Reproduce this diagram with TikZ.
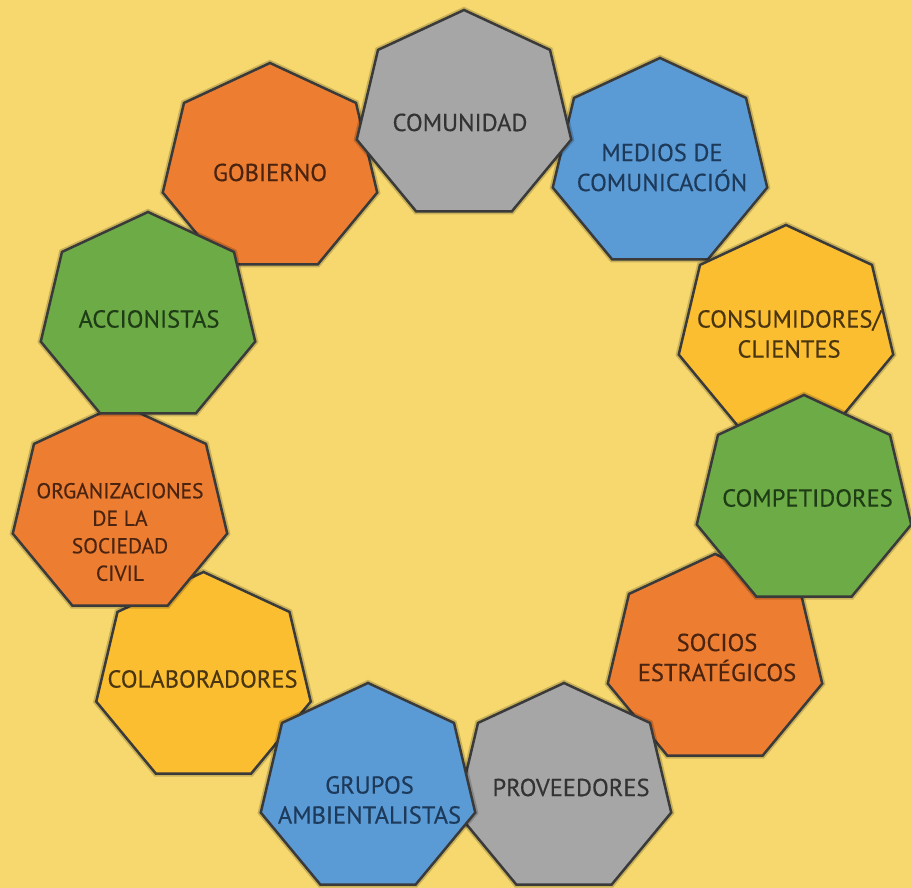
\documentclass[tikz,border=0pt]{standalone}
\usepackage{fontspec}
\setmainfont[FakeBold=0.35]{PT Sans}
\definecolor{bgyel}{HTML}{F6D86E}
\definecolor{edgec}{HTML}{3A3A3A}
\definecolor{cgray}{HTML}{A6A6A6}
\definecolor{cblue}{HTML}{5B9BD5}
\definecolor{corange}{HTML}{ED7D31}
\definecolor{cyellow}{HTML}{FBBE30}
\definecolor{cgreen}{HTML}{6CAB46}
\definecolor{tgray}{HTML}{333333}
\definecolor{tblue}{HTML}{1D3A5A}
\definecolor{torange}{HTML}{4A2410}
\definecolor{tyellow}{HTML}{4A3512}
\definecolor{tgreen}{HTML}{1E3C16}
\tikzset{
  heptshape/.style={line width=2.5pt, draw=edgec, line join=miter},
  heptshadow/.style={line width=6pt, draw=black, opacity=0.18, line join=miter},
  lab/.style={font=\fontsize{24.5}{30}\selectfont, align=center, inner sep=0pt},
  smalllab/.style={font=\fontsize{21.5}{27.5}\selectfont, align=center, inner sep=0pt},
}
% #1 cx, #2 cy, #3 fill colour
\newcommand\heptpath[3]{%
  \draw[heptshadow] ({#1},{#2-106}) \foreach \k in {1,...,6}{ -- ({#1+110*cos(90+\k*360/7)},{#2-106*sin(90+\k*360/7)}) } -- cycle;
  \draw[heptshape, fill=#3] ({#1},{#2-106}) \foreach \k in {1,...,6}{ -- ({#1+110*cos(90+\k*360/7)},{#2-106*sin(90+\k*360/7)}) } -- cycle;
}
\begin{document}
\begin{tikzpicture}[x=1pt, y=-1pt]
  \useasboundingbox (0,0) rectangle (911,888);
  \fill[bgyel] (0,0) rectangle (911,888);

  % GOBIERNO
  \heptpath{270}{169}{corange}
  \node[lab, text=torange] (gob) at (270,172.5) {GOBIERNO};
  % MEDIOS
  \heptpath{660}{164}{cblue}
  \node[lab, text=tblue] (med) at (662,167.5) {MEDIOS DE\\COMUNICACIÓN};
  % CONSUMIDORES
  \heptpath{786}{331}{cyellow}
  \node[lab, text=tyellow] (con) at (789,334) {CONSUMIDORES/\\CLIENTES};
  % SOCIOS
  \heptpath{715}{660}{corange}
  \node[lab, text=torange] (soc) at (717,657.5) {SOCIOS\\ESTRATÉGICOS};
  % COLABORADORES
  \heptpath{203.5}{678}{cyellow}
  \node[lab, text=tyellow] (col) at (202.5,679) {COLABORADORES};
  % ORGANIZACIONES
  \heptpath{120}{510}{corange}
  \node[smalllab, text=torange] (org) at (120,532) {ORGANIZACIONES\\DE LA\\SOCIEDAD\\CIVIL};
  % ACCIONISTAS
  \heptpath{148}{318}{cgreen}
  \node[lab, text=tgreen] (acc) at (149,319) {ACCIONISTAS};
  % PROVEEDORES
  \heptpath{564}{789}{cgray}
  \node[lab, text=tgray] (pro) at (571,787.5) {PROVEEDORES};
  % GRUPOS
  \heptpath{368}{789}{cblue}
  \node[lab, text=tblue] (gru) at (369.5,800) {GRUPOS\\AMBIENTALISTAS};
  % COMPETIDORES
  \heptpath{804}{501}{cgreen}
  \node[lab, text=tgreen] (com) at (807.5,498) {COMPETIDORES};
  % COMUNIDAD
  \heptpath{464}{116}{cgray}
  \node[lab, text=tgray] (cmd) at (460,122.5) {COMUNIDAD};
\end{tikzpicture}
\end{document}
